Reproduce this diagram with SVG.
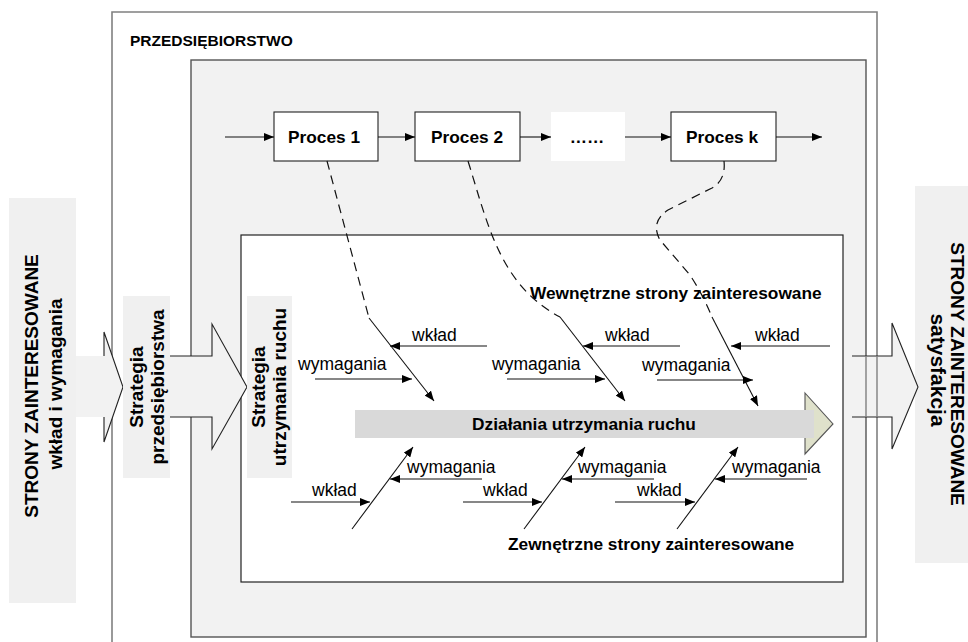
<svg xmlns="http://www.w3.org/2000/svg" width="968" height="642" viewBox="0 0 968 642">
<style>
text { font-family: "Liberation Sans", Arial, sans-serif; fill: #000; }
.b17 { font-size: 17.3px; font-weight: bold; }
.b19 { font-size: 19px; font-weight: bold; }
.r { font-size: 17.5px; }
.mid { text-anchor: middle; }
.ln { stroke: #111; stroke-width: 1.1; fill: none; }
.dash { stroke: #111; stroke-width: 1.2; fill: none; stroke-dasharray: 9 6; }
.blk { fill: #f2f2f2; stroke: #222; stroke-width: 1.1; }
.lbl { fill: #f0f0f0; }
.box { fill: #fff; stroke: #222; stroke-width: 1.1; }
</style>
<defs>
<marker id="ah" viewBox="0 0 10 8" markerWidth="10" markerHeight="8" refX="10" refY="4" orient="auto" markerUnits="userSpaceOnUse">
<path d="M0,0 L10,4 L0,8 z" fill="#000"/>
</marker>
</defs>
<rect width="968" height="642" fill="#fff"/>

<g id="przedsiebiorstwo">
<path d="M112,642 V12 H877 V642" fill="none" stroke="#808080" stroke-width="1.6"/>
<text x="130" y="46" style="font-size:15.5px;font-weight:bold">PRZEDSIĘBIORSTWO</text>
</g>

<g id="obszar-procesow">
<rect x="191" y="60" width="675" height="577" fill="#f2f2f2" stroke="#555" stroke-width="1.4"/>
</g>

<g id="obszar-utrzymania">
<rect x="241" y="235" width="602" height="347" fill="#fff" stroke="#222" stroke-width="1.2"/>
</g>

<g id="strony-wejscie">
<rect class="lbl" x="9" y="198" width="67" height="405"/>
<text class="b19 mid" transform="translate(38,386) rotate(-90)">STRONY ZAINTERESOWANE</text>
<text class="b19 mid" transform="translate(62,384) rotate(-90)">wkład i wymagania</text>
</g>

<g id="strzalka-1">
<path d="M76,356 H104 V332 L123,387 L104,442 V417 H76 Z" fill="#f2f2f2"/>
<path d="M104,356 V332 L123,387 L104,442 V417" fill="none" stroke="#222" stroke-width="1.1"/>
</g>

<g id="strzalka-2">
<path class="blk" d="M170,356 H212 V324 L247,387 L212,449 V417 H170"/>
</g>

<g id="strategia-przedsiebiorstwa">
<rect class="lbl" x="123" y="296" width="47" height="182"/>
<text class="b19 mid" transform="translate(142.5,387) rotate(-90)">Strategia</text>
<text class="b19 mid" transform="translate(164,387) rotate(-90)">przedsiębiorstwa</text>
</g>

<g id="strategia-utrzymania">
<rect class="lbl" x="247" y="296" width="45" height="182"/>
<text class="b19 mid" transform="translate(265,387) rotate(-90)">Strategia</text>
<text class="b19 mid" transform="translate(286,387) rotate(-90)">utrzymania ruchu</text>
</g>

<g id="strony-wyjscie">
<rect class="lbl" x="915" y="186" width="53" height="377"/>
<text class="b19 mid" transform="translate(951,374) rotate(90)">STRONY ZAINTERESOWANE</text>
<text class="mid" style="font-size:21px;font-weight:bold" transform="translate(931,370) rotate(90)">satysfakcja</text>
</g>

<g id="strzalka-3">
<path class="blk" d="M852,356 H892 V323 L918,387 L892,449 V417 H852"/>
<path d="M866,356 V417 M877,356 V417" stroke="#808080" stroke-width="1.4"/>
</g>

<g id="proces-1">
<rect class="box" x="274" y="112" width="104" height="49"/>
<text class="b17 mid" x="324" y="143">Proces 1</text>
</g>
<g id="proces-2">
<rect class="box" x="415" y="112" width="105" height="49"/>
<text class="b17 mid" x="467" y="143">Proces 2</text>
</g>
<g id="proces-dots">
<rect x="551" y="112" width="74" height="49" fill="#fff"/>
<text class="b17 mid" x="587" y="143">……</text>
</g>
<g id="proces-k">
<rect class="box" x="671" y="112" width="105" height="49"/>
<text class="b17 mid" x="722" y="143">Proces k</text>
</g>

<g id="dzialania">
<polygon points="805,393 833,424 805,454" fill="#dfe1cb" stroke="#555" stroke-width="1.1"/>
<rect x="355" y="410" width="459" height="28" fill="#d9d9d9"/>
<text class="b17 mid" x="584" y="430">Działania utrzymania ruchu</text>
</g>

<g id="etykiety">
<text class="b17" x="530" y="299">Wewnętrzne strony zainteresowane</text>
<text class="b17" x="508" y="550">Zewnętrzne strony zainteresowane</text>
</g>

<g id="connectors">
<path class="ln" d="M225,137 H274" marker-end="url(#ah)"/>
<path class="ln" d="M378,137 H415" marker-end="url(#ah)"/>
<path class="ln" d="M520,137 H551" marker-end="url(#ah)"/>
<path class="ln" d="M625,137 H671" marker-end="url(#ah)"/>
<path class="ln" d="M776,137 H822" marker-end="url(#ah)"/>

<path class="dash" d="M327,161 L369,318"/>
<path class="dash" d="M468,161 C488,225 500,285 560,317"/>
<path class="dash" d="M724,161 Q726,180 712,188 L668,210 Q650,222 660,240 L690,275 Q703,295 712,317"/>

<path class="ln" d="M369,318 L434,401" marker-end="url(#ah)"/>
<path class="ln" d="M560,317 L625,401" marker-end="url(#ah)"/>
<path class="ln" d="M712,317 L758,406" marker-end="url(#ah)"/>

<path class="ln" d="M487,346 H390" marker-end="url(#ah)"/>
<path class="ln" d="M315,379 H412" marker-end="url(#ah)"/>
<path class="ln" d="M680,346 H583" marker-end="url(#ah)"/>
<path class="ln" d="M507,379 H605" marker-end="url(#ah)"/>
<path class="ln" d="M830,346 H731" marker-end="url(#ah)"/>
<path class="ln" d="M657,380 H753" marker-end="url(#ah)"/>

<path class="ln" d="M352,529 L413,447" marker-end="url(#ah)"/>
<path class="ln" d="M524,529 L585,447" marker-end="url(#ah)"/>
<path class="ln" d="M677,529 L738,447" marker-end="url(#ah)"/>

<path class="ln" d="M482,479 H390" marker-end="url(#ah)"/>
<path class="ln" d="M291,502 H370" marker-end="url(#ah)"/>
<path class="ln" d="M654,479 H562" marker-end="url(#ah)"/>
<path class="ln" d="M463,502 H542" marker-end="url(#ah)"/>
<path class="ln" d="M807,479 H715" marker-end="url(#ah)"/>
<path class="ln" d="M615,502 H695" marker-end="url(#ah)"/>
</g>

<g id="opisy-strzalek">
<text class="r" x="412" y="341">wkład</text>
<text class="r" x="298" y="370">wymagania</text>
<text class="r" x="605" y="341">wkład</text>
<text class="r" x="492" y="370">wymagania</text>
<text class="r" x="755" y="341">wkład</text>
<text class="r" x="642" y="371">wymagania</text>
<text class="r" x="407" y="473">wymagania</text>
<text class="r" x="312" y="496">wkład</text>
<text class="r" x="578" y="473">wymagania</text>
<text class="r" x="483" y="496">wkład</text>
<text class="r" x="732" y="473">wymagania</text>
<text class="r" x="637" y="496">wkład</text>
</g>
</svg>
